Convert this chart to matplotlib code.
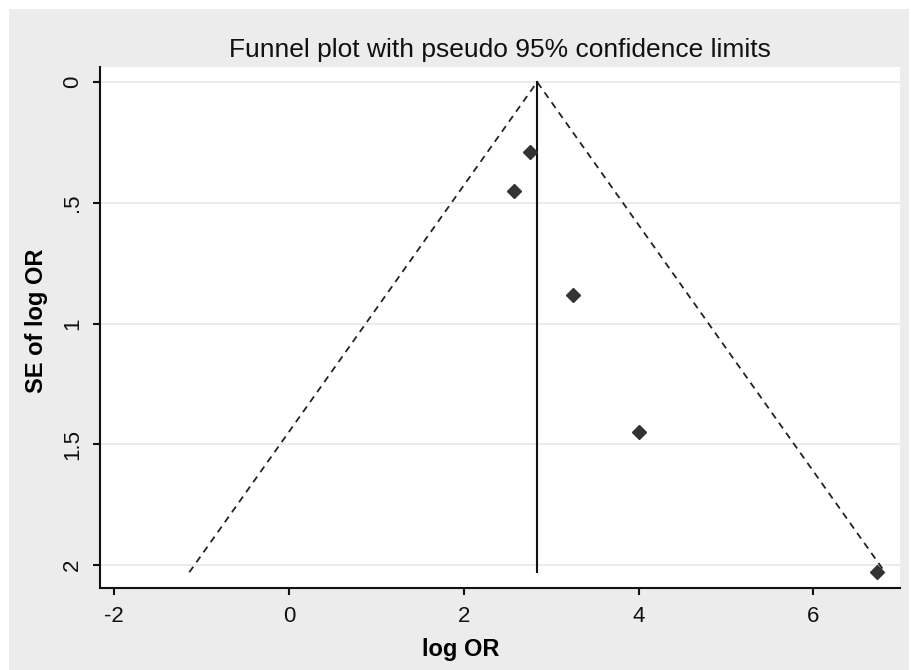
import matplotlib.pyplot as plt
from matplotlib.patches import Rectangle

# study estimates
log_or = [2.76, 2.57, 3.25, 4.00, 6.73]
se_log_or = [0.29, 0.45, 0.88, 1.45, 2.03]

pooled = 2.84
se_max = 2.03
z = 1.96

x_ticks = [-2, 0, 2, 4, 6]
x_labels = ["-2", "0", "2", "4", "6"]
y_ticks = [0, 0.5, 1, 1.5, 2]
y_labels = ["0", ".5", "1", "1.5", "2"]

W, H = 912, 670

plt.rcParams["font.family"] = ["Liberation Sans", "DejaVu Sans"]

fig = plt.figure(figsize=(W / 100, H / 100), dpi=100, facecolor="white")
fig.patches.append(Rectangle((9 / W, 0), 900 / W, (H - 9) / H,
                             transform=fig.transFigure, facecolor="#ececec",
                             edgecolor="none", zorder=-10))

ax = fig.add_axes([100 / W, (H - 588) / H, 800 / W, (588 - 67) / H])
ax.set_facecolor("white")

# funnel limits and pooled line
ax.plot([pooled - z * se_max, pooled, pooled + z * se_max], [se_max, 0, se_max],
        color="#222222", linestyle=(0, (3.8, 3.0)), linewidth=1.3, zorder=3)
ax.plot([pooled, pooled], [0, se_max], color="#111111", linewidth=1.5, zorder=3)

ax.plot(log_or, se_log_or, linestyle="none", marker="D", markersize=7,
        color="#333333", zorder=4)

ax.set_xlim(-2.16, 6.99)
ax.set_ylim(2.095, -0.062)

ax.set_xticks(x_ticks)
ax.set_xticklabels(x_labels)
ax.set_yticks(y_ticks)
ax.set_yticklabels(y_labels, rotation=90, va="center")

ax.grid(axis="y", color="#e8e8e8", linewidth=1.2)
ax.set_axisbelow(True)

for side in ["top", "right"]:
    ax.spines[side].set_visible(False)
for side in ["left", "bottom"]:
    ax.spines[side].set_linewidth(1.5)
    ax.spines[side].set_color("#111111")

ax.tick_params(axis="both", length=5, width=1.5, labelsize=16,
               color="#111111", labelcolor="#111111")
ax.tick_params(axis="x", pad=8)
ax.tick_params(axis="y", pad=7)

ax.set_xlabel("log OR", fontsize=17, fontweight="bold")
ax.xaxis.set_label_coords(0.451, -0.096)
ax.set_ylabel("SE of log OR", fontsize=17, fontweight="bold")
ax.yaxis.set_label_coords(-0.065, 0.513)
ax.set_title("Funnel plot with pseudo 95% confidence limits", fontsize=19,
             pad=7, color="#111111")

fig.savefig("out.png", dpi=100, facecolor=fig.get_facecolor())
